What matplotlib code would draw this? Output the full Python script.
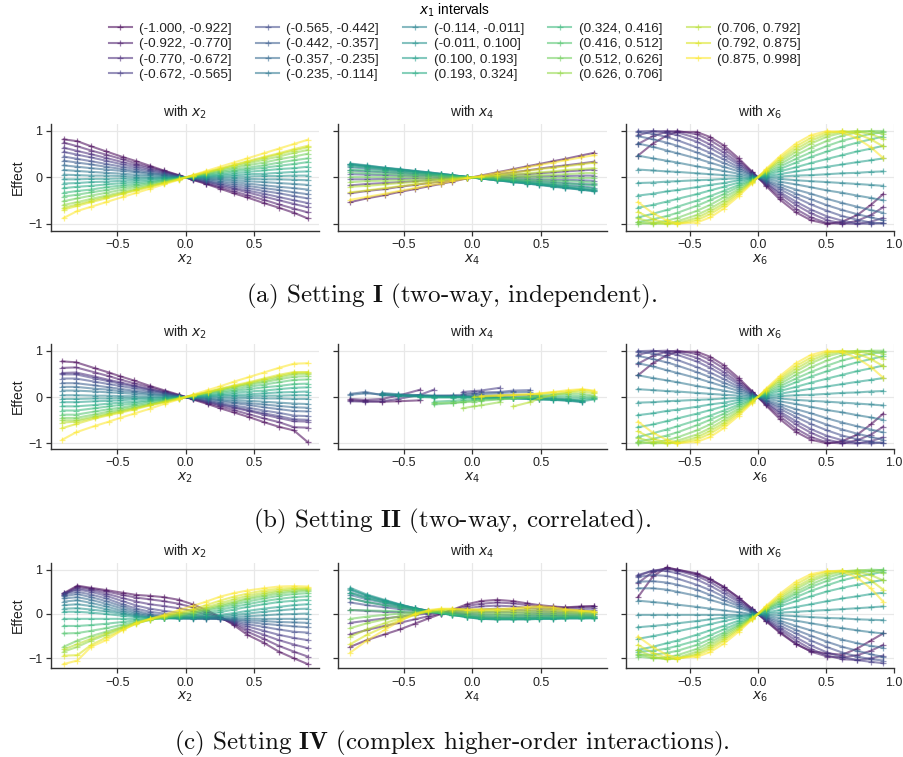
import numpy as np
import matplotlib
matplotlib.use("Agg")
import matplotlib.pyplot as plt

N = np.nan

interval_labels = [
    "(-1.000, -0.922]", "(-0.922, -0.770]", "(-0.770, -0.672]", "(-0.672, -0.565]",
    "(-0.565, -0.442]", "(-0.442, -0.357]", "(-0.357, -0.235]", "(-0.235, -0.114]",
    "(-0.114, -0.011]", "(-0.011, 0.100]", "(0.100, 0.193]", "(0.193, 0.324]",
    "(0.324, 0.416]", "(0.416, 0.512]", "(0.512, 0.626]", "(0.626, 0.706]",
    "(0.706, 0.792]", "(0.792, 0.875]", "(0.875, 0.998]",
]

# evaluation grids of the second feature
grid_x2 = [-0.89, -0.79, -0.69, -0.58, -0.46, -0.36, -0.26, -0.16, -0.05,
           0.05, 0.15, 0.25, 0.35, 0.45, 0.57, 0.68, 0.79, 0.89]
grid_x4 = [-0.89, -0.77, -0.64, -0.53, -0.42, -0.32, -0.23, -0.15, -0.04,
           0.06, 0.18, 0.30, 0.40, 0.49, 0.59, 0.68, 0.79, 0.89]
grid_x6 = [-0.88, -0.77, -0.67, -0.59, -0.45, -0.35, -0.25, -0.14, -0.04,
           0.06, 0.16, 0.28, 0.39, 0.51, 0.62, 0.73, 0.83, 0.92]
grid_b_x2 = [-0.90, -0.80, -0.66, -0.56, -0.48, -0.38, -0.26, -0.15, -0.05,
             0.05, 0.16, 0.25, 0.35, 0.46, 0.57, 0.68, 0.79, 0.89]
grid_b_x4 = [-0.89, -0.78, -0.66, -0.54, -0.38, -0.28, -0.14, -0.07, 0.01,
             0.06, 0.20, 0.30, 0.42, 0.49, 0.59, 0.70, 0.80, 0.89]

# Setting I
effect_a_x2 = [
    [0.82, 0.78, 0.67, 0.56, 0.44, 0.35, 0.25, 0.15, 0.05, -0.05, -0.14, -0.24, -0.34, -0.43, -0.55, -0.65, -0.76, -0.88],
    [0.75, 0.67, 0.58, 0.49, 0.39, 0.30, 0.22, 0.14, 0.04, -0.04, -0.13, -0.21, -0.30, -0.38, -0.48, -0.58, -0.67, -0.75],
    [0.64, 0.57, 0.50, 0.42, 0.33, 0.26, 0.19, 0.12, 0.04, -0.04, -0.11, -0.18, -0.25, -0.32, -0.41, -0.49, -0.57, -0.64],
    [0.55, 0.49, 0.43, 0.36, 0.28, 0.22, 0.16, 0.10, 0.03, -0.03, -0.09, -0.15, -0.22, -0.28, -0.35, -0.42, -0.49, -0.55],
    [0.45, 0.40, 0.35, 0.29, 0.23, 0.18, 0.13, 0.08, 0.03, -0.03, -0.08, -0.13, -0.18, -0.23, -0.29, -0.34, -0.40, -0.45],
    [0.36, 0.32, 0.28, 0.23, 0.18, 0.14, 0.10, 0.06, 0.02, -0.02, -0.06, -0.10, -0.14, -0.18, -0.23, -0.27, -0.32, -0.36],
    [0.26, 0.23, 0.20, 0.17, 0.14, 0.11, 0.08, 0.05, 0.01, -0.01, -0.04, -0.07, -0.10, -0.13, -0.17, -0.20, -0.23, -0.26],
    [0.16, 0.14, 0.12, 0.10, 0.08, 0.06, 0.05, 0.03, 0.01, -0.01, -0.03, -0.04, -0.06, -0.08, -0.10, -0.12, -0.14, -0.16],
    [0.06, 0.05, 0.04, 0.04, 0.03, 0.02, 0.02, 0.01, 0.00, 0.00, -0.01, -0.02, -0.02, -0.03, -0.04, -0.04, -0.05, -0.06],
    [-0.04, -0.04, -0.03, -0.03, -0.02, -0.02, -0.01, -0.01, 0.00, 0.00, 0.01, 0.01, 0.02, 0.02, 0.03, 0.03, 0.04, 0.04],
    [-0.13, -0.12, -0.10, -0.09, -0.07, -0.05, -0.04, -0.02, -0.01, 0.01, 0.02, 0.04, 0.05, 0.07, 0.08, 0.10, 0.12, 0.13],
    [-0.23, -0.20, -0.18, -0.15, -0.12, -0.09, -0.07, -0.04, -0.01, 0.01, 0.04, 0.06, 0.09, 0.12, 0.15, 0.18, 0.20, 0.23],
    [-0.33, -0.29, -0.26, -0.21, -0.17, -0.13, -0.10, -0.06, -0.02, 0.02, 0.06, 0.09, 0.13, 0.17, 0.21, 0.25, 0.29, 0.33],
    [-0.41, -0.37, -0.32, -0.27, -0.21, -0.17, -0.12, -0.07, -0.02, 0.02, 0.07, 0.12, 0.16, 0.21, 0.26, 0.32, 0.37, 0.41],
    [-0.51, -0.45, -0.39, -0.33, -0.26, -0.20, -0.15, -0.09, -0.03, 0.03, 0.09, 0.14, 0.20, 0.26, 0.32, 0.39, 0.45, 0.51],
    [-0.59, -0.53, -0.46, -0.39, -0.31, -0.24, -0.17, -0.11, -0.03, 0.03, 0.10, 0.17, 0.23, 0.30, 0.38, 0.45, 0.53, 0.59],
    [-0.65, -0.58, -0.50, -0.42, -0.34, -0.26, -0.19, -0.12, -0.04, 0.04, 0.11, 0.18, 0.26, 0.33, 0.42, 0.50, 0.58, 0.65],
    [-0.69, -0.61, -0.53, -0.45, -0.35, -0.28, -0.20, -0.12, -0.04, 0.04, 0.12, 0.19, 0.27, 0.35, 0.44, 0.52, 0.61, 0.68],
    [-0.87, -0.72, -0.63, -0.53, -0.42, -0.33, -0.24, -0.15, -0.05, 0.05, 0.14, 0.23, 0.32, 0.41, 0.52, 0.62, 0.72, 0.81],
]
effect_a_x4 = [
    [-0.53, -0.45, -0.38, -0.31, -0.25, -0.19, -0.14, -0.09, -0.02, 0.04, 0.11, 0.18, 0.24, 0.29, 0.35, 0.40, 0.47, 0.53],
    [-0.34, -0.29, -0.25, -0.20, -0.16, -0.12, -0.09, -0.06, -0.02, 0.02, 0.07, 0.11, 0.15, 0.19, 0.23, 0.26, 0.30, 0.34],
    [-0.17, -0.14, -0.12, -0.10, -0.08, -0.06, -0.04, -0.03, -0.01, 0.01, 0.03, 0.06, 0.07, 0.09, 0.11, 0.13, 0.15, 0.17],
    [-0.04, -0.04, -0.03, -0.03, -0.02, -0.02, -0.01, -0.01, 0.00, 0.00, 0.01, 0.01, 0.02, 0.02, 0.03, 0.03, 0.04, 0.04],
    [0.07, 0.06, 0.05, 0.04, 0.03, 0.03, 0.02, 0.01, 0.00, 0.00, -0.01, -0.02, -0.03, -0.04, -0.05, -0.05, -0.06, -0.07],
    [0.15, 0.13, 0.11, 0.09, 0.07, 0.06, 0.04, 0.03, 0.01, -0.01, -0.03, -0.05, -0.07, -0.08, -0.10, -0.12, -0.14, -0.15],
    [0.22, 0.19, 0.16, 0.13, 0.10, 0.08, 0.06, 0.04, 0.01, -0.01, -0.04, -0.07, -0.10, -0.12, -0.15, -0.17, -0.19, -0.22],
    [0.27, 0.23, 0.19, 0.16, 0.13, 0.10, 0.07, 0.05, 0.01, -0.02, -0.05, -0.09, -0.12, -0.15, -0.18, -0.21, -0.24, -0.27],
    [0.29, 0.25, 0.21, 0.17, 0.14, 0.11, 0.08, 0.05, 0.01, -0.02, -0.06, -0.10, -0.13, -0.16, -0.19, -0.22, -0.26, -0.29],
    [0.30, 0.26, 0.21, 0.18, 0.14, 0.11, 0.08, 0.05, 0.01, -0.02, -0.06, -0.10, -0.13, -0.16, -0.20, -0.23, -0.26, -0.30],
    [0.28, 0.24, 0.20, 0.17, 0.13, 0.10, 0.07, 0.05, 0.01, -0.02, -0.06, -0.09, -0.12, -0.15, -0.18, -0.21, -0.25, -0.28],
    [0.24, 0.21, 0.17, 0.14, 0.11, 0.09, 0.06, 0.04, 0.01, -0.02, -0.05, -0.08, -0.11, -0.13, -0.16, -0.18, -0.21, -0.24],
    [0.17, 0.15, 0.13, 0.10, 0.08, 0.06, 0.05, 0.03, 0.01, -0.01, -0.04, -0.06, -0.08, -0.10, -0.12, -0.13, -0.15, -0.17],
    [0.11, 0.09, 0.08, 0.06, 0.05, 0.04, 0.03, 0.02, 0.00, -0.01, -0.02, -0.04, -0.05, -0.06, -0.07, -0.08, -0.09, -0.11],
    [0.01, 0.01, 0.01, 0.01, 0.00, 0.00, 0.00, 0.00, 0.00, 0.00, 0.00, 0.00, 0.00, 0.00, -0.01, -0.01, -0.01, -0.01],
    [-0.10, -0.08, -0.07, -0.06, -0.05, -0.04, -0.03, -0.02, 0.00, 0.01, 0.02, 0.03, 0.04, 0.05, 0.06, 0.07, 0.09, 0.10],
    [-0.20, -0.18, -0.15, -0.12, -0.10, -0.07, -0.05, -0.03, -0.01, 0.01, 0.04, 0.07, 0.09, 0.11, 0.13, 0.16, 0.18, 0.20],
    [-0.32, -0.28, -0.23, -0.19, -0.15, -0.12, -0.08, -0.05, -0.01, 0.02, 0.06, 0.11, 0.14, 0.18, 0.21, 0.24, 0.28, 0.32],
    [-0.48, -0.42, -0.35, -0.29, -0.23, -0.17, -0.13, -0.08, -0.02, 0.03, 0.10, 0.16, 0.22, 0.27, 0.32, 0.37, 0.43, 0.48],
]
effect_a_x6 = [
    [0.47, 0.73, 0.90, 0.98, 0.98, 0.87, 0.69, 0.41, 0.12, -0.18, -0.47, -0.75, -0.92, -1.00, -0.95, -0.81, -0.59, -0.36],
    [0.72, 0.89, 0.98, 1.00, 0.93, 0.80, 0.62, 0.36, 0.11, -0.16, -0.41, -0.68, -0.86, -0.98, -1.00, -0.93, -0.81, -0.64],
    [0.91, 0.99, 1.00, 0.97, 0.85, 0.71, 0.54, 0.31, 0.09, -0.13, -0.35, -0.59, -0.77, -0.92, -0.99, -1.00, -0.95, -0.87],
    [0.99, 1.00, 0.96, 0.91, 0.77, 0.63, 0.47, 0.27, 0.08, -0.12, -0.31, -0.52, -0.69, -0.84, -0.93, -0.99, -1.00, -0.98],
    [0.98, 0.94, 0.87, 0.80, 0.65, 0.53, 0.39, 0.22, 0.06, -0.09, -0.25, -0.43, -0.58, -0.72, -0.83, -0.91, -0.97, -0.99],
    [0.89, 0.82, 0.75, 0.68, 0.54, 0.43, 0.31, 0.18, 0.05, -0.08, -0.20, -0.35, -0.47, -0.60, -0.70, -0.79, -0.86, -0.92],
    [0.73, 0.66, 0.58, 0.52, 0.41, 0.32, 0.23, 0.13, 0.04, -0.06, -0.15, -0.26, -0.35, -0.46, -0.55, -0.63, -0.70, -0.76],
    [0.47, 0.41, 0.36, 0.32, 0.24, 0.19, 0.14, 0.08, 0.02, -0.03, -0.09, -0.15, -0.21, -0.28, -0.33, -0.39, -0.44, -0.49],
    [0.17, 0.15, 0.13, 0.12, 0.09, 0.07, 0.05, 0.03, 0.01, -0.01, -0.03, -0.06, -0.08, -0.10, -0.12, -0.14, -0.16, -0.18],
    [-0.12, -0.11, -0.09, -0.08, -0.06, -0.05, -0.03, -0.02, -0.01, 0.01, 0.02, 0.04, 0.05, 0.07, 0.09, 0.10, 0.12, 0.13],
    [-0.39, -0.35, -0.30, -0.27, -0.21, -0.16, -0.12, -0.06, -0.02, 0.03, 0.07, 0.13, 0.18, 0.23, 0.28, 0.33, 0.37, 0.41],
    [-0.65, -0.59, -0.52, -0.46, -0.36, -0.28, -0.20, -0.11, -0.03, 0.05, 0.13, 0.22, 0.31, 0.40, 0.48, 0.56, 0.62, 0.68],
    [-0.86, -0.78, -0.70, -0.63, -0.50, -0.40, -0.29, -0.16, -0.05, 0.07, 0.18, 0.32, 0.44, 0.56, 0.66, 0.75, 0.82, 0.88],
    [-0.96, -0.90, -0.83, -0.76, -0.61, -0.49, -0.36, -0.20, -0.06, 0.09, 0.23, 0.40, 0.54, 0.68, 0.79, 0.87, 0.94, 0.97],
    [-1.00, -0.98, -0.93, -0.87, -0.72, -0.59, -0.43, -0.25, -0.07, 0.11, 0.28, 0.48, 0.64, 0.79, 0.90, 0.97, 1.00, 1.00],
    [-0.96, -1.00, -0.99, -0.94, -0.81, -0.67, -0.50, -0.29, -0.08, 0.13, 0.33, 0.55, 0.73, 0.88, 0.96, 1.00, 0.99, 0.94],
    [-0.88, -0.97, -1.00, -0.98, -0.87, -0.73, -0.56, -0.32, -0.09, 0.14, 0.37, 0.61, 0.79, 0.93, 0.99, 0.99, 0.93, 0.83],
    [-0.74, -0.90, -0.98, -1.00, -0.92, -0.79, -0.61, -0.36, -0.10, 0.16, 0.41, 0.67, 0.85, 0.97, 1.00, 0.94, 0.82, 0.67],
    [-0.53, -0.77, -0.92, -0.99, -0.97, -0.86, -0.67, -0.40, -0.12, 0.18, 0.45, 0.73, 0.91, 1.00, 0.97, 0.84, 0.65, 0.42],
]

# Setting II
effect_b_x2 = [
    [0.77, 0.75, 0.62, 0.53, 0.45, 0.36, 0.24, 0.14, 0.05, -0.05, -0.15, -0.24, -0.33, -0.43, -0.54, -0.64, -0.72, -0.97],
    [0.63, 0.64, 0.53, 0.45, 0.38, 0.30, 0.21, 0.12, 0.04, -0.04, -0.13, -0.20, -0.28, -0.37, -0.46, -0.54, -0.65, -0.66],
    [0.52, 0.53, 0.44, 0.37, 0.32, 0.25, 0.17, 0.10, 0.03, -0.03, -0.11, -0.17, -0.23, -0.30, -0.38, -0.45, -0.52, -0.53],
    [0.49, 0.49, 0.40, 0.34, 0.29, 0.23, 0.16, 0.09, 0.03, -0.03, -0.10, -0.15, -0.21, -0.28, -0.35, -0.41, -0.48, -0.49],
    [0.40, 0.40, 0.33, 0.28, 0.24, 0.19, 0.13, 0.08, 0.03, -0.03, -0.08, -0.13, -0.18, -0.23, -0.29, -0.34, -0.40, -0.41],
    [0.30, 0.30, 0.25, 0.21, 0.18, 0.14, 0.10, 0.06, 0.02, -0.02, -0.06, -0.10, -0.13, -0.17, -0.22, -0.26, -0.30, -0.31],
    [0.22, 0.22, 0.18, 0.16, 0.13, 0.11, 0.07, 0.04, 0.01, -0.01, -0.04, -0.07, -0.10, -0.13, -0.16, -0.19, -0.22, -0.23],
    [0.14, 0.14, 0.12, 0.10, 0.09, 0.07, 0.05, 0.03, 0.01, -0.01, -0.03, -0.05, -0.06, -0.08, -0.10, -0.12, -0.14, -0.15],
    [0.04, 0.04, 0.03, 0.03, 0.02, 0.02, 0.01, 0.01, 0.00, 0.00, -0.01, -0.01, -0.02, -0.02, -0.03, -0.03, -0.04, -0.04],
    [-0.04, -0.04, -0.03, -0.03, -0.02, -0.02, -0.01, -0.01, 0.00, 0.00, 0.01, 0.01, 0.02, 0.02, 0.03, 0.03, 0.04, 0.04],
    [-0.11, -0.11, -0.09, -0.08, -0.07, -0.05, -0.04, -0.02, -0.01, 0.01, 0.02, 0.04, 0.05, 0.06, 0.08, 0.10, 0.11, 0.12],
    [-0.20, -0.20, -0.17, -0.14, -0.12, -0.10, -0.07, -0.04, -0.01, 0.01, 0.04, 0.06, 0.09, 0.12, 0.14, 0.17, 0.20, 0.21],
    [-0.29, -0.29, -0.24, -0.20, -0.17, -0.14, -0.09, -0.05, -0.02, 0.02, 0.06, 0.09, 0.13, 0.17, 0.21, 0.24, 0.28, 0.29],
    [-0.38, -0.38, -0.31, -0.26, -0.23, -0.18, -0.12, -0.07, -0.02, 0.02, 0.08, 0.12, 0.16, 0.22, 0.27, 0.32, 0.37, 0.38],
    [-0.45, -0.45, -0.37, -0.31, -0.27, -0.21, -0.15, -0.08, -0.03, 0.03, 0.09, 0.14, 0.20, 0.26, 0.32, 0.38, 0.44, 0.45],
    [-0.50, -0.50, -0.41, -0.35, -0.30, -0.24, -0.16, -0.09, -0.03, 0.03, 0.10, 0.16, 0.22, 0.29, 0.35, 0.42, 0.49, 0.50],
    [-0.55, -0.53, -0.44, -0.37, -0.32, -0.25, -0.17, -0.10, -0.03, 0.03, 0.11, 0.17, 0.23, 0.30, 0.38, 0.45, 0.52, 0.53],
    [-0.67, -0.58, -0.46, -0.39, -0.34, -0.27, -0.18, -0.11, -0.04, 0.04, 0.11, 0.18, 0.25, 0.32, 0.40, 0.48, 0.54, 0.54],
    [-0.92, -0.76, -0.62, -0.53, -0.45, -0.36, -0.25, -0.14, -0.05, 0.05, 0.15, 0.23, 0.33, 0.43, 0.53, 0.63, 0.72, 0.73],
]
effect_b_x4 = [
    [-0.07, -0.09, -0.10, -0.09, -0.07, N, N, N, N, N, N, N, N, N, N, N, N, N],
    [-0.04, -0.06, -0.04, 0.03, 0.16, N, N, N, N, N, N, N, N, N, N, N, N, N],
    [-0.09, -0.10, -0.09, -0.04, 0.05, 0.16, N, N, N, N, N, N, N, N, N, N, N, N],
    [N, N, N, N, N, N, N, 0.11, 0.13, 0.14, 0.20, N, N, N, N, N, N, N],
    [N, N, N, N, N, N, N, 0.07, 0.09, 0.10, 0.11, 0.14, 0.15, N, N, N, N, N],
    [0.07, 0.11, 0.04, 0.02, 0.03, 0.03, 0.04, 0.05, 0.06, 0.07, 0.09, 0.10, 0.11, N, N, N, N, N],
    [0.05, 0.08, 0.06, 0.04, 0.03, 0.02, 0.02, 0.02, 0.03, 0.03, 0.04, 0.04, 0.04, 0.03, N, N, N, N],
    [N, N, 0.09, 0.06, 0.04, 0.03, 0.02, 0.02, 0.01, 0.01, 0.01, 0.00, -0.01, -0.02, -0.03, -0.05, -0.08, N],
    [N, N, 0.07, 0.05, 0.03, 0.02, 0.01, 0.01, 0.00, 0.00, -0.01, -0.02, -0.03, -0.04, -0.05, -0.07, -0.10, N],
    [N, N, 0.05, 0.04, 0.02, 0.01, 0.00, 0.00, 0.00, -0.01, -0.02, -0.03, -0.04, -0.05, -0.06, -0.08, -0.11, N],
    [N, N, N, 0.02, 0.01, 0.00, 0.00, 0.00, -0.01, -0.01, -0.02, -0.03, -0.04, -0.05, -0.06, -0.07, -0.09, -0.05],
    [N, N, N, N, 0.00, -0.01, -0.01, -0.01, -0.01, -0.01, -0.02, -0.02, -0.03, -0.04, -0.04, -0.05, -0.06, -0.03],
    [N, N, N, N, N, -0.10, -0.08, -0.06, -0.05, -0.04, -0.03, -0.02, -0.01, 0.00, 0.00, -0.01, -0.02, -0.01],
    [N, N, N, N, N, -0.16, -0.13, -0.10, -0.07, -0.06, -0.04, -0.02, 0.00, 0.02, 0.03, 0.03, 0.02, 0.01],
    [N, N, N, N, N, -0.13, -0.12, -0.11, -0.10, -0.08, -0.05, -0.03, 0.00, 0.04, 0.06, 0.07, 0.07, 0.03],
    [N, N, N, N, N, N, N, -0.24, -0.20, -0.18, -0.11, N, N, N, N, N, N, N],
    [N, N, N, N, N, N, N, N, N, N, N, -0.20, -0.11, -0.03, 0.05, 0.10, 0.12, 0.08],
    [N, N, N, N, N, N, N, N, 0.00, 0.01, 0.03, 0.04, 0.06, 0.07, 0.10, 0.12, 0.16, 0.12],
    [N, N, N, N, N, N, N, N, N, 0.02, 0.04, 0.05, 0.06, 0.08, 0.11, 0.15, 0.17, 0.14],
]
effect_b_x6 = [row[:] for row in effect_a_x6]

# Setting IV
effect_c_x2 = [
    [0.47, 0.64, 0.59, 0.54, 0.48, 0.43, 0.41, 0.38, 0.32, 0.22, 0.09, -0.06, -0.25, -0.47, -0.65, -0.85, -1.00, -1.13],
    [0.45, 0.62, 0.57, 0.51, 0.43, 0.37, 0.33, 0.29, 0.23, 0.15, 0.04, -0.08, -0.22, -0.40, -0.56, -0.72, -0.85, -0.96],
    [0.44, 0.58, 0.54, 0.46, 0.36, 0.28, 0.22, 0.18, 0.13, 0.07, -0.01, -0.09, -0.20, -0.34, -0.47, -0.59, -0.69, -0.77],
    [0.47, 0.55, 0.50, 0.41, 0.29, 0.19, 0.12, 0.07, 0.03, -0.01, -0.06, -0.10, -0.18, -0.28, -0.38, -0.47, -0.54, -0.59],
    [0.44, 0.50, 0.44, 0.35, 0.22, 0.12, 0.05, 0.01, -0.03, -0.06, -0.08, -0.11, -0.16, -0.23, -0.29, -0.35, -0.40, -0.42],
    [0.40, 0.45, 0.38, 0.29, 0.17, 0.07, 0.00, -0.04, -0.07, -0.09, -0.10, -0.11, -0.14, -0.18, -0.22, -0.25, -0.28, -0.30],
    [0.35, 0.38, 0.32, 0.23, 0.12, 0.03, -0.03, -0.07, -0.09, -0.10, -0.11, -0.11, -0.12, -0.14, -0.16, -0.18, -0.19, -0.20],
    [0.28, 0.31, 0.25, 0.17, 0.07, 0.00, -0.05, -0.08, -0.10, -0.11, -0.11, -0.10, -0.10, -0.10, -0.11, -0.11, -0.11, -0.11],
    [0.20, 0.22, 0.18, 0.11, 0.03, -0.03, -0.07, -0.09, -0.10, -0.10, -0.09, -0.08, -0.06, -0.05, -0.03, -0.01, 0.00, 0.01],
    [0.12, 0.13, 0.10, 0.06, 0.00, -0.05, -0.08, -0.09, -0.10, -0.09, -0.07, -0.05, -0.02, 0.01, 0.05, 0.08, 0.11, 0.12],
    [0.05, 0.05, 0.03, 0.00, -0.04, -0.07, -0.09, -0.10, -0.09, -0.08, -0.05, -0.02, 0.02, 0.07, 0.12, 0.16, 0.20, 0.22],
    [-0.11, -0.11, -0.11, -0.11, -0.11, -0.11, -0.10, -0.10, -0.08, -0.05, -0.01, 0.04, 0.10, 0.16, 0.22, 0.27, 0.30, 0.32],
    [-0.27, -0.27, -0.25, -0.22, -0.18, -0.14, -0.11, -0.09, -0.06, -0.02, 0.03, 0.09, 0.16, 0.22, 0.29, 0.34, 0.38, 0.40],
    [-0.44, -0.43, -0.38, -0.32, -0.24, -0.17, -0.12, -0.08, -0.04, 0.01, 0.07, 0.14, 0.21, 0.28, 0.35, 0.41, 0.45, 0.47],
    [-0.74, -0.60, -0.50, -0.40, -0.29, -0.20, -0.13, -0.08, -0.03, 0.03, 0.10, 0.17, 0.25, 0.33, 0.40, 0.46, 0.50, 0.52],
    [-0.85, -0.74, -0.60, -0.47, -0.32, -0.21, -0.13, -0.07, -0.01, 0.05, 0.12, 0.20, 0.28, 0.36, 0.44, 0.50, 0.53, 0.55],
    [-0.80, -0.68, -0.56, -0.44, -0.30, -0.19, -0.11, -0.05, 0.02, 0.08, 0.15, 0.24, 0.33, 0.41, 0.48, 0.53, 0.56, 0.57],
    [-0.94, -0.93, -0.70, -0.53, -0.35, -0.22, -0.12, -0.04, 0.04, 0.11, 0.20, 0.30, 0.39, 0.46, 0.53, 0.57, 0.59, 0.59],
    [-1.13, -1.05, -0.74, -0.59, -0.36, -0.21, -0.11, -0.02, 0.09, 0.18, 0.28, 0.39, 0.47, 0.53, 0.58, 0.62, 0.63, 0.62],
]
effect_c_x4 = [
    [-0.74, -0.59, -0.46, -0.35, -0.22, -0.10, 0.00, 0.09, 0.22, 0.29, 0.32, 0.29, 0.24, 0.20, 0.17, 0.15, 0.17, 0.18],
    [-0.46, -0.36, -0.27, -0.20, -0.12, -0.05, 0.01, 0.08, 0.18, 0.23, 0.26, 0.24, 0.20, 0.17, 0.15, 0.14, 0.16, 0.17],
    [-0.20, -0.15, -0.10, -0.06, -0.02, 0.01, 0.03, 0.06, 0.13, 0.17, 0.19, 0.17, 0.14, 0.12, 0.11, 0.11, 0.12, 0.13],
    [0.09, 0.07, 0.05, 0.04, 0.03, 0.03, 0.03, 0.04, 0.08, 0.10, 0.12, 0.10, 0.08, 0.07, 0.06, 0.06, 0.08, 0.08],
    [0.26, 0.20, 0.15, 0.11, 0.08, 0.05, 0.03, 0.02, 0.03, 0.04, 0.05, 0.04, 0.03, 0.02, 0.02, 0.02, 0.03, 0.04],
    [0.35, 0.27, 0.20, 0.15, 0.10, 0.06, 0.03, 0.01, 0.00, -0.01, -0.01, -0.02, -0.02, -0.02, -0.02, -0.02, -0.01, -0.01],
    [0.43, 0.33, 0.25, 0.18, 0.12, 0.07, 0.03, 0.00, -0.03, -0.05, -0.06, -0.06, -0.06, -0.06, -0.05, -0.05, -0.04, -0.04],
    [0.48, 0.37, 0.28, 0.20, 0.13, 0.07, 0.03, 0.00, -0.05, -0.08, -0.09, -0.09, -0.09, -0.08, -0.08, -0.07, -0.06, -0.06],
    [0.54, 0.41, 0.30, 0.21, 0.13, 0.07, 0.02, -0.01, -0.06, -0.10, -0.11, -0.11, -0.11, -0.10, -0.10, -0.09, -0.08, -0.08],
    [0.59, 0.44, 0.32, 0.22, 0.13, 0.07, 0.02, -0.02, -0.07, -0.11, -0.12, -0.12, -0.12, -0.11, -0.11, -0.10, -0.10, -0.09],
    [0.56, 0.42, 0.30, 0.21, 0.13, 0.06, 0.02, -0.02, -0.07, -0.11, -0.12, -0.12, -0.12, -0.11, -0.11, -0.10, -0.10, -0.10],
    [0.48, 0.36, 0.26, 0.18, 0.11, 0.06, 0.02, -0.02, -0.06, -0.10, -0.11, -0.11, -0.11, -0.10, -0.10, -0.09, -0.09, -0.09],
    [0.35, 0.27, 0.20, 0.14, 0.09, 0.05, 0.02, -0.01, -0.05, -0.08, -0.09, -0.09, -0.08, -0.08, -0.07, -0.07, -0.07, -0.07],
    [0.09, 0.08, 0.07, 0.06, 0.05, 0.04, 0.03, 0.01, -0.02, -0.04, -0.05, -0.05, -0.04, -0.04, -0.04, -0.04, -0.04, -0.04],
    [-0.11, -0.06, -0.02, 0.01, 0.03, 0.05, 0.05, 0.04, 0.02, 0.00, -0.01, -0.01, 0.00, 0.00, 0.00, -0.01, -0.01, -0.01],
    [-0.32, -0.21, -0.12, -0.05, 0.01, 0.05, 0.07, 0.07, 0.05, 0.04, 0.03, 0.03, 0.04, 0.05, 0.04, 0.03, 0.02, 0.02],
    [-0.51, -0.35, -0.21, -0.10, -0.01, 0.06, 0.09, 0.09, 0.08, 0.07, 0.07, 0.07, 0.08, 0.10, 0.08, 0.06, 0.05, 0.04],
    [-0.68, -0.47, -0.29, -0.14, -0.02, 0.07, 0.11, 0.11, 0.10, 0.10, 0.10, 0.11, 0.13, 0.15, 0.12, 0.09, 0.07, 0.06],
    [-0.87, -0.60, -0.36, -0.16, 0.00, 0.09, 0.12, 0.12, 0.10, 0.10, 0.11, 0.13, 0.16, 0.18, 0.15, 0.11, 0.08, 0.05],
]
effect_c_x6 = [
    [0.38, 0.85, 1.05, 1.00, 0.90, 0.78, 0.61, 0.37, 0.11, -0.16, -0.42, -0.68, -0.84, -0.89, -0.92, -0.78, -0.60, -0.44],
    [0.70, 0.95, 1.04, 1.00, 0.92, 0.79, 0.61, 0.36, 0.11, -0.15, -0.40, -0.67, -0.85, -0.96, -0.98, -0.93, -0.83, -0.70],
    [0.86, 0.98, 1.02, 0.98, 0.86, 0.72, 0.54, 0.31, 0.09, -0.13, -0.35, -0.60, -0.79, -0.94, -1.02, -1.04, -1.00, -0.94],
    [0.88, 0.98, 0.97, 0.92, 0.78, 0.64, 0.47, 0.27, 0.08, -0.12, -0.31, -0.53, -0.71, -0.87, -0.97, -1.04, -1.08, -1.11],
    [0.84, 0.88, 0.86, 0.80, 0.66, 0.54, 0.39, 0.22, 0.06, -0.09, -0.26, -0.44, -0.60, -0.75, -0.87, -0.96, -1.02, -1.05],
    [0.73, 0.74, 0.71, 0.66, 0.55, 0.43, 0.31, 0.18, 0.05, -0.08, -0.20, -0.36, -0.49, -0.63, -0.74, -0.83, -0.91, -0.97],
    [0.58, 0.58, 0.55, 0.50, 0.41, 0.32, 0.23, 0.13, 0.04, -0.06, -0.15, -0.27, -0.37, -0.48, -0.58, -0.66, -0.72, -0.76],
    [0.30, 0.27, 0.24, 0.21, 0.16, 0.12, 0.08, 0.04, 0.00, -0.04, -0.09, -0.15, -0.21, -0.27, -0.32, -0.37, -0.41, -0.44],
    [-0.02, -0.02, -0.02, -0.02, -0.02, -0.02, -0.02, -0.02, -0.01, -0.02, -0.03, -0.05, -0.07, -0.09, -0.10, -0.12, -0.13, -0.14],
    [-0.30, -0.27, -0.24, -0.21, -0.16, -0.12, -0.08, -0.05, -0.02, 0.01, 0.03, 0.05, 0.07, 0.09, 0.11, 0.13, 0.15, 0.17],
    [-0.56, -0.50, -0.44, -0.39, -0.30, -0.23, -0.16, -0.09, -0.03, 0.03, 0.09, 0.16, 0.22, 0.29, 0.35, 0.40, 0.45, 0.48],
    [-0.81, -0.74, -0.66, -0.60, -0.47, -0.37, -0.27, -0.15, -0.04, 0.06, 0.17, 0.29, 0.40, 0.51, 0.59, 0.66, 0.72, 0.77],
    [-0.85, -0.83, -0.78, -0.72, -0.60, -0.48, -0.35, -0.20, -0.06, 0.08, 0.22, 0.38, 0.52, 0.65, 0.76, 0.84, 0.90, 0.95],
    [-0.92, -0.92, -0.88, -0.83, -0.70, -0.57, -0.42, -0.24, -0.07, 0.10, 0.26, 0.45, 0.61, 0.75, 0.86, 0.93, 0.97, 1.00],
    [-0.96, -1.00, -0.98, -0.93, -0.79, -0.64, -0.47, -0.27, -0.08, 0.11, 0.29, 0.50, 0.67, 0.82, 0.92, 0.98, 1.00, 0.99],
    [-0.90, -0.99, -1.02, -0.99, -0.85, -0.70, -0.52, -0.30, -0.09, 0.13, 0.33, 0.56, 0.74, 0.88, 0.96, 0.99, 0.97, 0.93],
    [-0.82, -0.96, -1.02, -1.01, -0.90, -0.75, -0.57, -0.33, -0.10, 0.14, 0.37, 0.61, 0.79, 0.92, 0.97, 0.96, 0.88, 0.76],
    [-0.70, -0.88, -0.99, -1.01, -0.93, -0.80, -0.61, -0.36, -0.11, 0.16, 0.41, 0.67, 0.85, 0.96, 0.98, 0.91, 0.76, 0.55],
    [-0.51, -0.75, -0.92, -0.99, -0.97, -0.86, -0.67, -0.40, -0.12, 0.18, 0.45, 0.73, 0.90, 0.97, 0.96, 0.82, 0.58, 0.28],
]

captions = [
    r"(a) Setting $\mathbf{I}$ (two-way, independent).",
    r"(b) Setting $\mathbf{II}$ (two-way, correlated).",
    r"(c) Setting $\mathbf{IV}$ (complex higher-order interactions).",
]
feature_names = ["x_2", "x_4", "x_6"]

panels = [
    [(grid_x2, effect_a_x2), (grid_x4, effect_a_x4), (grid_x6, effect_a_x6)],
    [(grid_b_x2, effect_b_x2), (grid_b_x4, effect_b_x4), (grid_x6, effect_b_x6)],
    [(grid_x2, effect_c_x2), (grid_x4, effect_c_x4), (grid_x6, effect_c_x6)],
]

plt.rcParams["font.family"] = ["Liberation Sans", "DejaVu Sans"]

W, H = 904, 757
fig = plt.figure(figsize=(W / 100, H / 100), dpi=100)

col_left = [50.7, 338.3, 625.7]
col_width = 268.3
row_top = [124.0, 344.0, 562.7]
row_height = [106.7, 105.0, 105.6]
row_ylim = [(-1.145, 1.15), (-1.12, 1.145), (-1.226, 1.158)]
col_xlim = [(-0.985, 0.973), (-0.978, 0.98), (-0.97, 1.0)]
caption_y = [296, 521, 743]

colors = plt.cm.viridis(np.linspace(0, 1, len(interval_labels)))
spine_color = "#333333"
legend_handles = None

for r in range(3):
    for c in range(3):
        xs, rows = panels[r][c]
        ax = fig.add_axes([col_left[c] / W, 1 - (row_top[r] + row_height[r]) / H,
                           col_width / W, row_height[r] / H])
        for i, vals in enumerate(rows):
            ax.plot(xs, vals, color=colors[i], alpha=0.55, lw=1.5,
                    marker="+", ms=4, mew=0.9, label=interval_labels[i])
        ax.set_xlim(*col_xlim[c])
        ax.set_ylim(*row_ylim[r])
        ax.set_yticks([-1, 0, 1])
        if c == 2:
            ax.set_xticks([-0.5, 0.0, 0.5, 1.0])
        else:
            ax.set_xticks([-0.5, 0.0, 0.5])
        ax.grid(True, color="#e8e8e8", lw=0.9)
        ax.set_axisbelow(True)
        for s in ("top", "right"):
            ax.spines[s].set_visible(False)
        for s in ("left", "bottom"):
            ax.spines[s].set_color(spine_color)
            ax.spines[s].set_linewidth(1.0)
        ax.tick_params(axis="both", labelsize=9, length=3.5, width=0.9,
                       color=spine_color, labelcolor="#222222", pad=2.5)
        if c > 0:
            ax.tick_params(axis="y", labelleft=False)
        else:
            ax.set_ylabel("Effect", fontsize=10, color="#222222", labelpad=2)
        ax.set_xlabel(f"${feature_names[c]}$", fontsize=10, color="#222222", labelpad=1)
        ax.set_title(f"with ${feature_names[c]}$", fontsize=10, color="#222222", pad=5)
        if legend_handles is None:
            legend_handles = ax.get_legend_handles_labels()

    fig.text(0.5, 1 - caption_y[r] / H, captions[r], ha="center", va="center",
             fontsize=18, family="cmr10", math_fontfamily="cm", color="#111111")

leg = fig.legend(*legend_handles, loc="upper center", bbox_to_anchor=(0.503, 1.008),
                 ncol=5, frameon=False, fontsize=9.7, title=r"$x_1$ intervals",
                 title_fontsize=9.8, handlelength=1.7, handletextpad=0.55,
                 columnspacing=1.8, labelspacing=0.22, borderpad=0.1)
for t in leg.get_texts():
    t.set_color("#222222")

fig.savefig("out.png", dpi=100)
